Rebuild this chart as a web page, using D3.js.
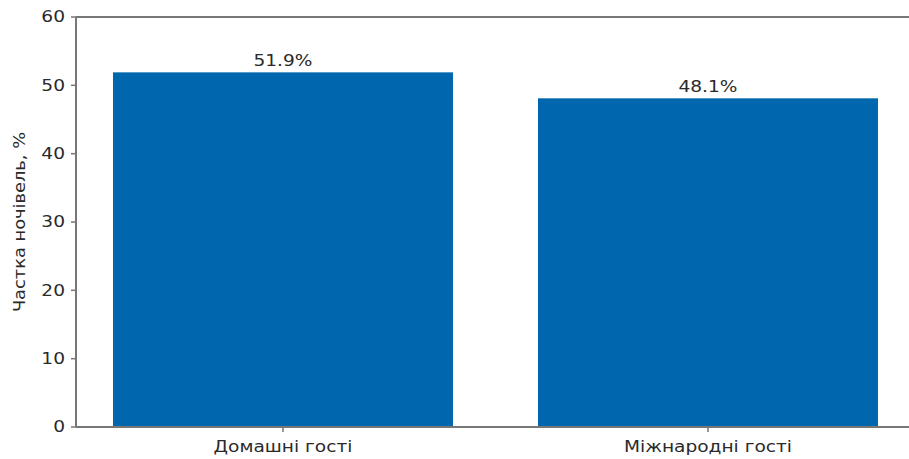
<!DOCTYPE html>
<html><head><meta charset="utf-8">
<script src="https://cdn.jsdelivr.net/npm/d3@7"></script>
<style>body{margin:0;background:#fff}svg{display:block}text{font-family:"DejaVu Sans",sans-serif;fill:#2a2a2a}</style>
</head><body><div id="c"></div>
<script>
const categories = ["Домашні гості", "Міжнародні гості"];
const values = [51.9, 48.1];
const yTicks = [0, 10, 20, 30, 40, 50, 60];
const yLabel = "Частка ночівель, %";

const W = 909, H = 459;
const m = {left: 76, top: 17, bottom: 427};
const FS = 15.5, SX = 1.2;
const svg = d3.select("#c").append("svg").attr("width", W).attr("height", H);

const x = d3.scaleLinear().domain([-0.487, 1.487]).range([m.left, 76 + 1.974 * 425]);
const y = d3.scaleLinear().domain([0, 60]).range([m.bottom, m.top]);
const bw = 0.8;
const axisColor = "#777";

svg.selectAll("rect.bar").data(values).join("rect").attr("class", "bar")
  .attr("x", (d, i) => x(i - bw / 2)).attr("width", (d, i) => x(i + bw / 2) - x(i - bw / 2))
  .attr("y", d => y(d)).attr("height", d => y(0) - y(d)).attr("fill", "#0066ad");

function label(g, tx, ty, txt, anchor, baseline) {
  g.append("g").attr("transform", `translate(${tx},${ty}) scale(${SX},1)`)
    .append("text").attr("text-anchor", anchor).attr("dominant-baseline", baseline || "auto")
    .attr("font-size", FS).text(txt);
}

values.forEach((d, i) => label(svg, x(i), y(d) - 6, d.toFixed(1) + "%", "middle"));

// y ticks
const yt = svg.append("g");
yTicks.forEach(t => {
  yt.append("line").attr("x1", m.left - 5).attr("x2", m.left).attr("y1", y(t)).attr("y2", y(t))
    .attr("stroke", axisColor).attr("stroke-width", 1.5);
  label(yt, m.left - 11, y(t), String(t), "end", "central");
});

// x ticks
const xt = svg.append("g");
categories.forEach((c, i) => {
  xt.append("line").attr("x1", x(i)).attr("x2", x(i)).attr("y1", m.bottom).attr("y2", m.bottom + 5)
    .attr("stroke", axisColor).attr("stroke-width", 1.5);
  label(xt, x(i), m.bottom + 25, c, "middle");
});

// spines
svg.append("line").attr("x1", m.left).attr("x2", m.left).attr("y1", m.top).attr("y2", m.bottom).attr("stroke", axisColor).attr("stroke-width", 2);
svg.append("line").attr("x1", m.left).attr("x2", W).attr("y1", m.bottom).attr("y2", m.bottom).attr("stroke", axisColor).attr("stroke-width", 2);
svg.append("line").attr("x1", m.left).attr("x2", W).attr("y1", m.top).attr("y2", m.top).attr("stroke", axisColor).attr("stroke-width", 2);

svg.append("g").attr("transform", `translate(25,${(m.top + m.bottom) / 2 + 0}) rotate(-90) scale(1.15,1)`)
  .append("text").attr("text-anchor", "middle").attr("font-size", FS).text(yLabel);
</script></body></html>
